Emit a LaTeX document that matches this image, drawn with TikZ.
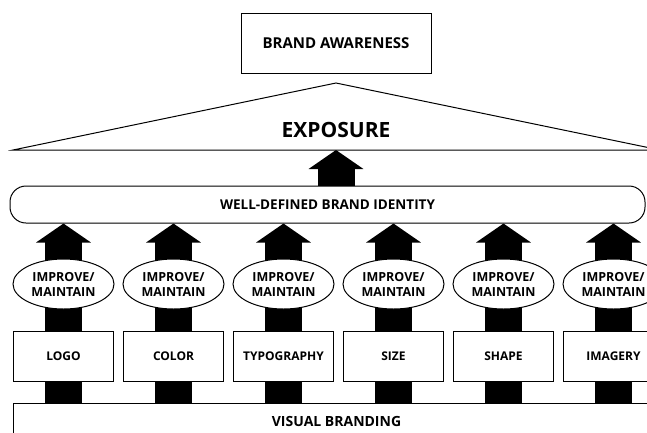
\documentclass[tikz,border=0pt]{standalone}
\usepackage{fontspec}
\setmainfont{Open Sans}
\usepackage{tikz}
\usetikzlibrary{arrows.meta,shapes.geometric,positioning,backgrounds}
\tikzstyle{block} = [rectangle, draw, fill=white, line width=1pt,
    minimum width=100pt, minimum height=50pt, inner sep=0pt, font=\bfseries\fontsize{12}{14}\selectfont]
\tikzstyle{oval} = [ellipse, draw, fill=white, line width=1pt, align=center,
    minimum width=101pt, minimum height=50pt, inner sep=0pt, font=\bfseries\fontsize{12.5}{15}\selectfont]
\tikzstyle{fat} = [draw, line width=37pt, -{Triangle[width=54pt,length=19pt]}]

\begin{document}
\begin{tikzpicture}[x=1pt,y=-1pt]
    \useasboundingbox (0,0) rectangle (647,432);
    % Place nodes
    \node [block, minimum width=190pt, minimum height=60pt, font=\bfseries\fontsize{15}{18}\selectfont] (aware) at (336,43) {BRAND AWARENESS};
    \coordinate (roofL) at (13,150);
    \coordinate (roofT) at (336,83);
    \coordinate (roofR) at (660,150);
    \draw [line width=1pt] (roofL) -- (roofT) -- (roofR) -- cycle;
    \node [font=\bfseries\fontsize{21}{24}\selectfont] (expo) at (336,130) {EXPOSURE};
    \node [block, rounded corners=16pt, minimum width=635pt, minimum height=37pt, font=\bfseries\fontsize{13.5}{16}\selectfont] (ident) at (327.5,204.5) {WELL-DEFINED BRAND IDENTITY};
    \node [block] (logo) at (63.5,356) {LOGO};
    \node [block, right=9pt of logo] (color) {COLOR};
    \node [block, right=9pt of color] (typo) {TYPOGRAPHY};
    \node [block, right=9pt of typo] (size) {SIZE};
    \node [block, right=9pt of size] (shape) {SHAPE};
    \node [block, right=9pt of shape] (imag) {IMAGERY};
    \node [oval, above=21pt of logo] (impA) {IMPROVE/\\MAINTAIN};
    \node [oval, above=21pt of color] (impB) {IMPROVE/\\MAINTAIN};
    \node [oval, above=21pt of typo] (impC) {IMPROVE/\\MAINTAIN};
    \node [oval, above=21pt of size] (impD) {IMPROVE/\\MAINTAIN};
    \node [oval, above=21pt of shape] (impE) {IMPROVE/\\MAINTAIN};
    \node [oval, above=21pt of imag] (impF) {IMPROVE/\\MAINTAIN};
    \node [block, anchor=north west, minimum width=646pt, minimum height=36pt, font=\bfseries\fontsize{14}{17}\selectfont] (vis) at ([yshift=-21pt]logo.south west) {VISUAL BRANDING};
    % Draw edges
    \begin{scope}[on background layer]
    \path [fat] (vis.north -| logo) -- (ident.south -| logo);
    \path [fat] (vis.north -| color) -- (ident.south -| color);
    \path [fat] (vis.north -| typo) -- (ident.south -| typo);
    \path [fat] (vis.north -| size) -- (ident.south -| size);
    \path [fat] (vis.north -| shape) -- (ident.south -| shape);
    \path [fat] (vis.north -| imag) -- (ident.south -| imag);
    \path [fat] (ident.north -| expo) -- (expo |- roofL);
    \end{scope}
\end{tikzpicture}
\end{document}
